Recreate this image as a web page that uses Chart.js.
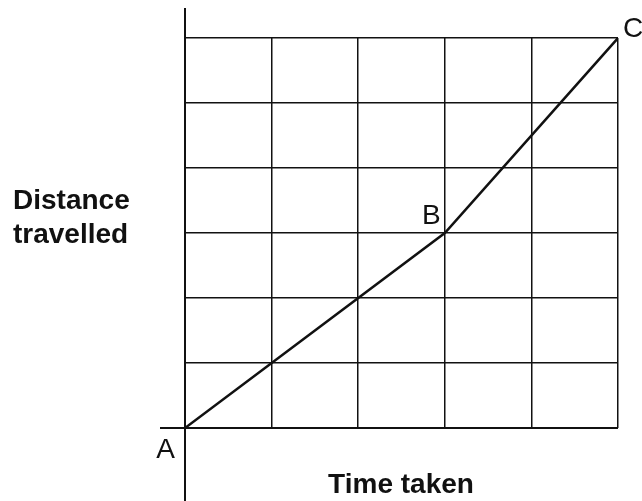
<!DOCTYPE html>
<html lang="en">
<head>
    <meta charset="UTF-8">
    <title>Distance vs time</title>
    <script src="https://cdn.jsdelivr.net/npm/chart.js"></script>
    <style>
        html, body { margin: 0; padding: 0; background: #fff; }
        #wrap { width: 642px; height: 501px; }
    </style>
</head>
<body>
    <div id="wrap"><canvas id="chart" width="642" height="501"></canvas></div>

    <script>
        // journey points A -> B -> C (time units, distance units)
        const pointNames = ['A', 'B', 'C'];
        const timeTaken = [0, 3, 5];
        const distanceTravelled = [0, 3, 6];
        const xTitle = 'Time taken';
        const yTitle = ['Distance', 'travelled'];

        const FONT = '"Liberation Sans", Arial, sans-serif';
        const INK = '#111';

        // extra axis strokes, point letters and axis titles
        const decor = {
            id: 'decor',
            afterDraw(chart) {
                const ctx = chart.ctx;
                const x = chart.scales.x, y = chart.scales.y;
                const area = chart.chartArea;
                const x0 = x.getPixelForValue(0), y0 = y.getPixelForValue(0);

                ctx.save();
                ctx.strokeStyle = INK;
                ctx.lineWidth = 2;
                ctx.beginPath();
                ctx.moveTo(x0, area.top - 30);
                ctx.lineTo(x0, chart.height);
                ctx.moveTo(x0 - 25, y0);
                ctx.lineTo(area.right, y0);
                ctx.stroke();

                // letters next to each point
                const pts = chart.getDatasetMeta(0).data;
                ctx.fillStyle = INK;
                ctx.font = '28px ' + FONT;
                const offs = [
                    { dx: -10, dy: 30, align: 'right' },
                    { dx: -4, dy: -9, align: 'right' },
                    { dx: 5, dy: -1, align: 'left' }
                ];
                pts.forEach((p, i) => {
                    ctx.textAlign = offs[i].align;
                    ctx.textBaseline = 'alphabetic';
                    ctx.fillText(pointNames[i], p.x + offs[i].dx, p.y + offs[i].dy);
                });

                // axis titles
                ctx.font = 'bold 28px ' + FONT;
                ctx.textAlign = 'left';
                ctx.fillText(yTitle[0], 13, 209);
                ctx.fillText(yTitle[1], 13, 243);
                ctx.textAlign = 'center';
                ctx.fillText(xTitle, 401, 493);
                ctx.restore();
            }
        };

        new Chart(document.getElementById('chart'), {
            type: 'line',
            data: {
                datasets: [{
                    data: timeTaken.map((t, i) => ({ x: t, y: distanceTravelled[i] })),
                    borderColor: INK,
                    borderWidth: 2.5,
                    pointRadius: 0,
                    tension: 0,
                    fill: false
                }]
            },
            options: {
                responsive: false,
                animation: false,
                layout: { padding: { left: 185, right: 24, top: 38, bottom: 73 } },
                plugins: { legend: { display: false }, tooltip: { enabled: false } },
                scales: {
                    x: {
                        type: 'linear', min: 0, max: 5,
                        ticks: { display: false, stepSize: 1 },
                        grid: { color: INK, lineWidth: 1.5, drawTicks: false },
                        border: { display: false }
                    },
                    y: {
                        type: 'linear', min: 0, max: 6,
                        ticks: { display: false, stepSize: 1 },
                        grid: { color: INK, lineWidth: 1.5, drawTicks: false },
                        border: { display: false }
                    }
                }
            },
            plugins: [decor]
        });
    </script>
</body>
</html>
